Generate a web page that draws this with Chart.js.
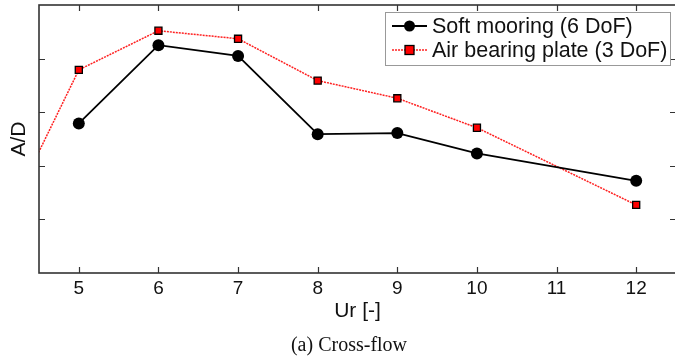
<!DOCTYPE html>
<html>
<head>
<meta charset="utf-8">
<script src="https://cdn.jsdelivr.net/npm/chart.js@4/dist/chart.umd.min.js"></script>
<style>
  html, body { margin: 0; padding: 0; background: #fff; }
  #wrap { position: relative; width: 675px; height: 358px; overflow: hidden; }
  #chart-box { position: absolute; left: 0; top: 0; width: 680px; height: 358px; }
  #caption {
    position: absolute; left: 0; width: 698px; top: 333px;
    text-align: center; font: 20px "Liberation Serif", "Times New Roman", serif; color: #111;
  }
</style>
</head>
<body>
<div id="wrap">
  <div id="chart-box"><canvas id="grafico"></canvas></div>
  <div id="caption">(a) Cross-flow</div>
</div>
<script>
// Velocidade reduzida (Ur) e amplitude A/D (eixo sem valores)
const urMooring = [5, 6, 7, 8, 9, 10, 12];
const adMooring = [2.79, 4.25, 4.05, 2.59, 2.61, 2.23, 1.72];

const urPlate = [4, 5, 6, 7, 8, 9, 10, 12];
const adPlate = [0.74, 3.79, 4.52, 4.37, 3.59, 3.26, 2.71, 1.27];

const xTicks = [5, 6, 7, 8, 9, 10, 11, 12];
const yTicks = [1, 2, 3, 4];

const nomes = ['Soft mooring (6 DoF)', 'Air bearing plate (3 DoF)'];

const pares = (xs, ys) => xs.map((x, i) => ({ x: x, y: ys[i] }));

// Moldura com marcas para dentro + legenda em caixa
const moldura = {
  id: 'moldura',
  afterDatasetsDraw(chart) {
    const { ctx, chartArea: a, scales: { x, y } } = chart;
    ctx.save();
    ctx.strokeStyle = '#333';
    ctx.lineWidth = 1.2;
    ctx.beginPath();
    xTicks.forEach(v => {
      const px = Math.round(x.getPixelForValue(v)) + 0.5;
      ctx.moveTo(px, a.bottom); ctx.lineTo(px, a.bottom - 6);
      ctx.moveTo(px, a.top); ctx.lineTo(px, a.top + 6);
    });
    yTicks.forEach(v => {
      const py = Math.round(y.getPixelForValue(v)) + 0.5;
      ctx.moveTo(a.left, py); ctx.lineTo(a.left + 6, py);
      ctx.moveTo(a.right, py); ctx.lineTo(a.right - 6, py);
    });
    ctx.stroke();
    ctx.lineWidth = 1.6;
    ctx.strokeRect(a.left, a.top, a.right - a.left, a.bottom - a.top);

    // legenda
    const bx = 385, by = 12, bw = 285, bh = 53;
    ctx.fillStyle = '#fff';
    ctx.fillRect(bx, by, bw, bh);
    ctx.strokeStyle = '#999';
    ctx.lineWidth = 1;
    ctx.strokeRect(bx + 0.5, by + 0.5, bw, bh);
    ctx.font = '21.5px "Liberation Sans", Arial, sans-serif';
    ctx.textBaseline = 'middle';
    chart.data.datasets.forEach((ds, i) => {
      const cy = 26 + i * 24;
      ctx.strokeStyle = ds.borderColor;
      ctx.lineWidth = ds.borderWidth;
      ctx.setLineDash(ds.borderDash || []);
      ctx.beginPath();
      ctx.moveTo(392, cy); ctx.lineTo(427, cy);
      ctx.stroke();
      ctx.setLineDash([]);
      ctx.fillStyle = ds.pointBackgroundColor;
      ctx.strokeStyle = ds.pointBorderColor;
      ctx.lineWidth = ds.pointBorderWidth;
      if (ds.pointStyle === 'rect') {
        ctx.fillRect(405, cy - 4.5, 9, 9);
        ctx.strokeRect(405, cy - 4.5, 9, 9);
      } else {
        ctx.beginPath();
        ctx.arc(409.5, cy, 5.5, 0, Math.PI * 2);
        ctx.fill();
      }
      ctx.fillStyle = '#111';
      ctx.fillText(ds.label, 432, cy + 1);
    });
    ctx.restore();
  }
};

const ctx = document.getElementById('grafico').getContext('2d');
new Chart(ctx, {
  type: 'line',
  data: {
    datasets: [{
      label: nomes[0],
      data: pares(urMooring, adMooring),
      borderColor: '#000',
      borderWidth: 1.8,
      pointStyle: 'circle',
      pointRadius: 6,
      pointBackgroundColor: '#000',
      pointBorderColor: '#000',
      pointBorderWidth: 0,
      tension: 0
    }, {
      label: nomes[1],
      data: pares(urPlate, adPlate),
      borderColor: '#ff2020',
      borderWidth: 1.5,
      borderDash: [2, 1],
      pointStyle: 'rect',
      pointRadius: 5,
      pointBackgroundColor: '#ff0000',
      pointBorderColor: '#000',
      pointBorderWidth: 1.3,
      tension: 0
    }]
  },
  options: {
    responsive: true,
    maintainAspectRatio: false,
    animation: false,
    layout: { autoPadding: false, padding: { top: 5, right: 4, bottom: 30, left: 0 } },
    scales: {
      x: {
        type: 'linear',
        min: 4.5,
        max: 12.5,
        afterFit: s => { s.height = 55; s.paddingLeft = 0; s.paddingRight = 0; },
        afterBuildTicks: s => { s.ticks = xTicks.map(v => ({ value: v })); },
        grid: { display: false, drawTicks: false },
        border: { display: false },
        ticks: {
          padding: 4,
          color: '#111',
          font: { family: '"Liberation Sans", Arial, sans-serif', size: 19 }
        },
        title: {
          display: true,
          text: 'Ur [-]',
          color: '#111',
          padding: { top: 0, bottom: 4 },
          font: { family: '"Liberation Sans", Arial, sans-serif', size: 21 }
        }
      },
      y: {
        min: 0,
        max: 5,
        afterFit: s => { s.width = 39; },
        grid: { display: false, drawTicks: false },
        border: { display: false },
        ticks: { display: false },
        title: {
          display: true,
          text: 'A/D',
          color: '#111',
          padding: { top: 7, bottom: 0 },
          font: { family: '"Liberation Sans", Arial, sans-serif', size: 21 }
        }
      }
    },
    plugins: {
      legend: { display: false },
      tooltip: { enabled: false }
    }
  },
  plugins: [moldura]
});
</script>
</body>
</html>
